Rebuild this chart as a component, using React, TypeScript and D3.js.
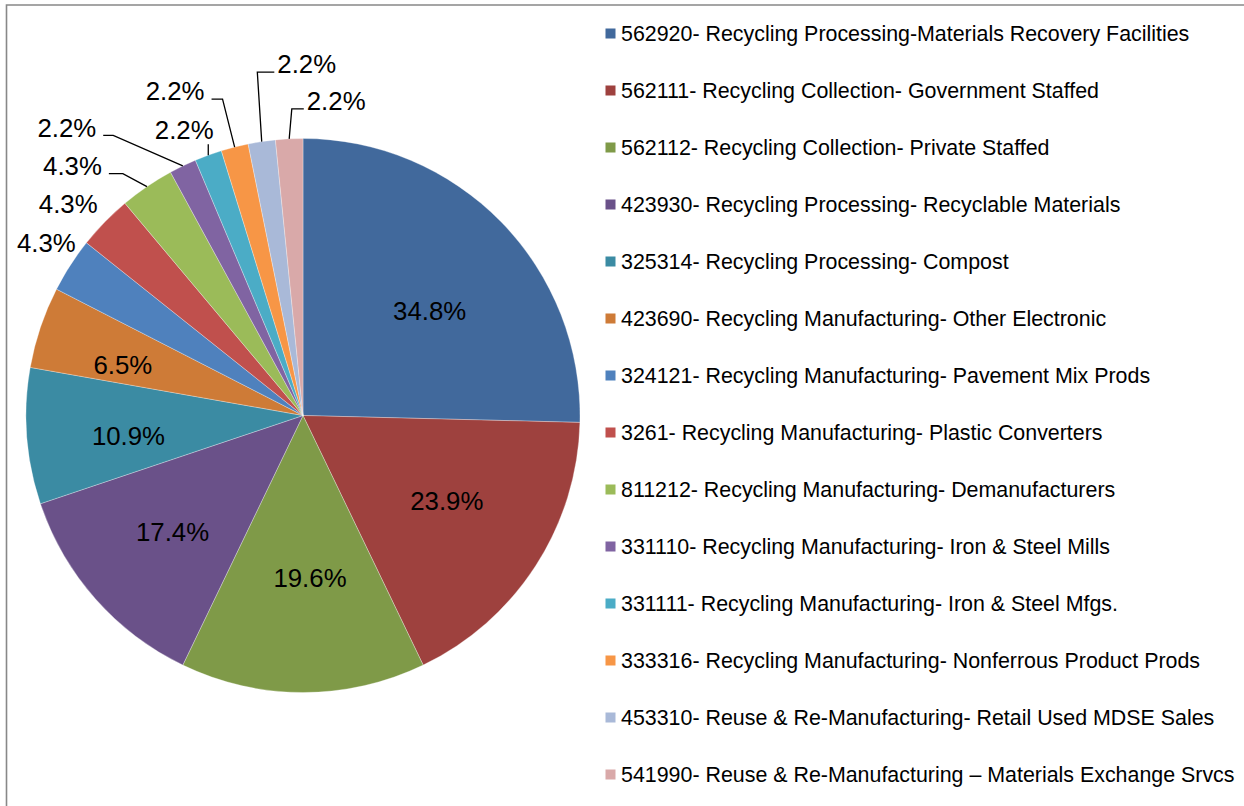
import * as d3 from "d3";

const categories = [
  "562920- Recycling Processing-Materials Recovery Facilities",
  "562111- Recycling Collection- Government Staffed",
  "562112- Recycling Collection- Private Staffed",
  "423930- Recycling Processing- Recyclable Materials",
  "325314- Recycling Processing- Compost",
  "423690- Recycling Manufacturing- Other Electronic",
  "324121- Recycling Manufacturing- Pavement Mix Prods",
  "3261- Recycling Manufacturing- Plastic Converters",
  "811212- Recycling Manufacturing- Demanufacturers",
  "331110- Recycling Manufacturing- Iron & Steel Mills",
  "331111- Recycling Manufacturing- Iron & Steel Mfgs.",
  "333316- Recycling Manufacturing- Nonferrous Product Prods",
  "453310- Reuse & Re-Manufacturing- Retail Used MDSE Sales",
  "541990- Reuse & Re-Manufacturing \u2013 Materials Exchange Srvcs",
];

// slice sizes (counts), and the percentages printed on the slices
const counts = [16, 11, 9, 8, 5, 3, 2, 2, 2, 1, 1, 1, 1, 1];
const shownPct = [34.8, 23.9, 19.6, 17.4, 10.9, 6.5, 4.3, 4.3, 4.3, 2.2, 2.2, 2.2, 2.2, 2.2];

const colors = [
  "#41699C", "#9E413E", "#7F9A48", "#6A5189", "#3B8BA3", "#CE7B37",
  "#4F81BD", "#C0504D", "#9BBB59", "#8064A2", "#4BACC6", "#F79646",
  "#A9B9D8", "#D9A9A9",
];

const W = 1244;
const H = 806;
const cx = 303;
const cy = 415.5;
const R = 277;
const labelFont = 25.8;
const legendFont = 21.4;

// label placement tweaks (layout only)
const insideRadius = 170;
const insideNudge: [number, number][] = [[5, 14], [1, -7], [7, -8], [-3, 4], [-5, 8], [-19, 3]];
const outsideLayout = [
  { dx: -24, dy: -23, elbow: 0 },
  { dx: -36.5, dy: -18, elbow: 0 },
  { dx: -74.5, dy: -21, elbow: 14 },
  { dx: -116, dy: -38.5, elbow: 10 },
  { dx: -24, dy: -26, elbow: -1 },
  { dx: -59.5, dy: -56, elbow: 11 },
  { dx: 45, dy: -77.5, elbow: 17 },
  { dx: 47, dy: -38, elbow: 12 },
];

const App = () => {
  const arcs = d3.pie<number>().sort(null).value((d) => d)(counts);
  const arcGen = d3.arc<d3.PieArcDatum<number>>().innerRadius(0).outerRadius(R);
  const labelArc = d3
    .arc<d3.PieArcDatum<number>>()
    .innerRadius(insideRadius)
    .outerRadius(insideRadius);

  const legendY = d3.scalePoint<number>().domain(d3.range(categories.length)).range([33.5, 774.5]);

  const halfW = (2.279 * labelFont) / 2;

  return (
    <svg
      width={W}
      height={H}
      style={{ position: "absolute", left: 0, top: 0, background: "#fff" }}
      fontFamily="'Liberation Sans', Arial, sans-serif"
    >
      <path d={`M6.5,${H} V5 H${W}`} fill="none" stroke="#888" strokeWidth={1.6} />
      <g transform={`translate(${cx},${cy})`}>
        {arcs.map((a, i) => (
          <path key={i} d={arcGen(a) as string} fill={colors[i]} stroke="#fff" strokeWidth={0.5} strokeOpacity={0.6} />
        ))}
        {arcs.map((a, i) => {
          if (i >= insideNudge.length) return null;
          const [x, y] = labelArc.centroid(a);
          return (
            <text
              key={"in" + i}
              x={x + insideNudge[i][0]}
              y={y + insideNudge[i][1]}
              dy="0.36em"
              textAnchor="middle"
              fontSize={labelFont}
              fill="#000"
            >
              {shownPct[i].toFixed(1)}%
            </text>
          );
        })}
        {arcs.map((a, i) => {
          const k = i - insideNudge.length;
          if (k < 0) return null;
          const lay = outsideLayout[k];
          const mid = (a.startAngle + a.endAngle) / 2;
          const ex = R * Math.sin(mid);
          const ey = -R * Math.cos(mid);
          const lx = ex + lay.dx;
          const ly = ey + lay.dy;
          const left = lx < ex;
          let leader: string | null = null;
          if (lay.elbow > 0) {
            const lineY = ly + 8;
            const endX = left ? lx + halfW + 7 : lx - halfW - 3;
            const elbowX = left ? endX + lay.elbow : endX - lay.elbow;
            leader = `M${ex},${ey} L${elbowX},${lineY} L${endX},${lineY}`;
          } else if (lay.elbow < 0) {
            leader = `M${ex},${ey} L${ex},${ly + 15}`;
          }
          return (
            <g key={"out" + i}>
              {leader && <path d={leader} fill="none" stroke="#000" strokeWidth={1.3} />}
              <text x={lx} y={ly} dy="0.36em" textAnchor="middle" fontSize={labelFont} fill="#000">
                {shownPct[i].toFixed(1)}%
              </text>
            </g>
          );
        })}
      </g>
      <g>
        {categories.map((c, i) => {
          const y = legendY(i) as number;
          return (
            <g key={c}>
              <rect x={605.5} y={y - 5} width={10} height={10} fill={colors[i]} />
              <text x={621} y={y} dy="0.36em" fontSize={legendFont} fill="#000">
                {c}
              </text>
            </g>
          );
        })}
      </g>
    </svg>
  );
};

export default App;
